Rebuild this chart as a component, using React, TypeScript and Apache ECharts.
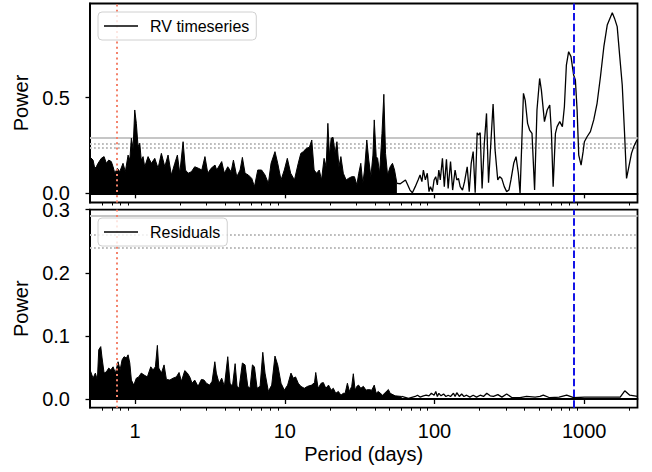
import React, { useEffect, useRef } from "react";
import * as echarts from "echarts";

// ---- data (period in days, power) ----
const rvDense: [number, number][] = [
  [0.5, 0.19], [0.524, 0.174], [0.538, 0.131], [0.551, 0.139], [0.566, 0.157], [0.595, 0.183],
  [0.621, 0.192], [0.643, 0.157], [0.667, 0.174], [0.694, 0.166], [0.713, 0.139], [0.732, 0.105],
  [0.762, 0.131], [0.79, 0.113], [0.831, 0.157], [0.861, 0.113], [0.898, 0.2], [0.922, 0.174],
  [0.945, 0.288], [0.97, 0.235], [0.995, 0.436], [1.02, 0.366], [1.047, 0.244], [1.075, 0.262],
  [1.1, 0.174], [1.131, 0.192], [1.16, 0.139], [1.221, 0.192], [1.285, 0.157], [1.354, 0.183],
  [1.424, 0.131], [1.499, 0.209], [1.58, 0.139], [1.661, 0.2], [1.748, 0.096], [1.842, 0.157],
  [1.917, 0.2], [1.989, 0.105], [2.093, 0.27], [2.17, 0.122], [2.26, 0.105], [2.377, 0.113],
  [2.504, 0.139], [2.65, 0.131], [2.79, 0.122], [2.93, 0.192], [3.06, 0.105], [3.22, 0.131],
  [3.42, 0.148], [3.51, 0.122], [3.79, 0.166], [3.95, 0.105], [4.16, 0.139], [4.38, 0.113],
  [4.54, 0.174], [4.78, 0.087], [5.03, 0.122], [5.21, 0.188], [5.43, 0.105], [5.71, 0.096],
  [6.02, 0.078], [6.27, 0.035], [6.6, 0.122], [7.0, 0.122], [7.38, 0.096], [7.77, 0.052],
  [8.1, 0.157], [8.6, 0.218], [8.97, 0.157], [9.44, 0.07], [9.93, 0.122], [10.4, 0.183],
  [10.95, 0.105], [11.6, 0.07], [12.3, 0.157], [12.8, 0.209], [13.3, 0.218], [13.9, 0.235],
  [14.6, 0.241], [15.15, 0.279], [15.7, 0.122], [16.3, 0.105], [17.0, 0.122], [17.6, 0.07],
  [18.3, 0.183], [18.9, 0.139], [19.4, 0.366], [19.9, 0.192], [20.4, 0.288], [21.0, 0.293],
  [21.7, 0.209], [22.3, 0.27], [23.0, 0.139], [23.7, 0.192], [24.6, 0.105], [25.7, 0.07],
  [26.6, 0.078], [28.0, 0.087], [29.2, 0.087], [30.3, 0.044], [31.2, 0.105], [32.2, 0.157],
  [33.2, 0.052], [34.1, 0.122], [35.3, 0.279], [36.4, 0.174], [37.6, 0.087], [38.8, 0.2],
  [39.6, 0.384], [40.8, 0.192], [41.7, 0.183], [43.0, 0.105], [44.6, 0.314], [45.9, 0.518],
  [47.1, 0.209], [48.6, 0.096], [50.6, 0.139], [52.4, 0.157], [54.1, 0.122], [56.1, 0.052],
];

const rvLine: [number, number][] = [
  [56.1, 0.052], [59.1, 0.05], [64.0, 0.07], [66.3, 0.044], [68.6, 0.017], [71.2, 0.003],
  [74.4, 0.035], [77.7, 0.07], [80.1, 0.096], [82.4, 0.061], [84.3, 0.122], [86.9, 0.07],
  [89.5, 0.105], [91.9, 0.009], [94.0, 0.035], [96.9, 0.009], [99.4, 0.07], [101.9, 0.087],
  [104.5, 0.044], [106.9, 0.122], [109.3, 0.07], [113.0, 0.183], [116.3, 0.035], [120.2, 0.178],
  [123.4, 0.026], [128.0, 0.166], [132.2, 0.017], [137.3, 0.122], [140.9, 0.07], [144.6, 0.078],
  [148.5, 0.035], [153.9, 0.017], [158.8, 0.061], [165.4, 0.139], [170.6, 0.009], [175.9, 0.157],
  [181.3, 0.218], [187.0, 0.003], [192.8, 0.317], [196.8, 0.305], [201.9, 0.317], [208.0, 0.026],
  [215.2, 0.262], [222.6, 0.418], [229.6, 0.056], [237.9, 0.262], [246.3, 0.467], [253.9, 0.227],
  [264.6, 0.07], [272.8, 0.087], [281.2, 0.078], [292.5, 0.035], [303.4, 0.009], [314.2, 0.017],
  [324.1, 0.07], [338.3, 0.157], [350.5, 0.192], [363.3, 0.105], [373.0, 0.0], [392.9, 0.523],
  [403.4, 0.488], [418.6, 0.366], [431.9, 0.331], [448.0, 0.314], [466.3, 0.017], [483.7, 0.436],
  [503.9, 0.601], [517.6, 0.54], [542.6, 0.375], [565.9, 0.436], [588.7, 0.462], [604.3, 0.314],
  [620.3, 0.035], [642.4, 0.314], [659.2, 0.349], [686.3, 0.375], [715.0, 0.349], [737.3, 0.453],
  [760.3, 0.671], [787.1, 0.741], [816.4, 0.715], [849.7, 0.619], [873.1, 0.593], [896.6, 0.436],
  [919.4, 0.2], [953.3, 0.148], [983.6, 0.218], [1003, 0.27], [1045, 0.296], [1100, 0.323],
  [1158, 0.384], [1219, 0.471], [1284, 0.61], [1353, 0.767], [1425, 0.88], [1485, 0.915],
  [1540, 0.945], [1595, 0.915], [1661, 0.872], [1728, 0.715], [1795, 0.567], [1860, 0.314],
  [1918, 0.078], [1987, 0.139], [2070, 0.209], [2143, 0.244], [2250, 0.279],
];

const resDense: [number, number][] = [
  [0.5, 0.046], [0.506, 0.043], [0.524, 0.033], [0.543, 0.041], [0.56, 0.03], [0.572, 0.078],
  [0.59, 0.083], [0.602, 0.065], [0.621, 0.041], [0.643, 0.043], [0.667, 0.049], [0.688, 0.046],
  [0.713, 0.051], [0.739, 0.041], [0.77, 0.059], [0.794, 0.046], [0.819, 0.062], [0.844, 0.067],
  [0.875, 0.065], [0.898, 0.07], [0.922, 0.057], [0.945, 0.03], [0.98, 0.022], [1.02, 0.033],
  [1.058, 0.035], [1.1, 0.041], [1.148, 0.038], [1.208, 0.035], [1.273, 0.051], [1.319, 0.046],
  [1.367, 0.051], [1.409, 0.085], [1.44, 0.049], [1.5, 0.041], [1.562, 0.054], [1.619, 0.031],
  [1.706, 0.03], [1.793, 0.033], [1.887, 0.035], [1.967, 0.042], [2.04, 0.028], [2.148, 0.045],
  [2.236, 0.041], [2.319, 0.035], [2.403, 0.025], [2.504, 0.03], [2.634, 0.02], [2.773, 0.031],
  [2.89, 0.03], [2.994, 0.025], [3.15, 0.022], [3.27, 0.028], [3.41, 0.059], [3.49, 0.041],
  [3.64, 0.025], [3.79, 0.033], [3.95, 0.02], [4.16, 0.067], [4.31, 0.025], [4.47, 0.02],
  [4.66, 0.056], [4.8, 0.02], [4.95, 0.017], [5.21, 0.057], [5.43, 0.054], [5.66, 0.02],
  [5.86, 0.017], [6.08, 0.054], [6.27, 0.051], [6.53, 0.017], [6.84, 0.02], [7.13, 0.074],
  [7.38, 0.041], [7.77, 0.012], [8.18, 0.022], [8.6, 0.068], [8.97, 0.054], [9.44, 0.025],
  [9.93, 0.014], [10.45, 0.022], [11.0, 0.041], [11.4, 0.033], [11.8, 0.035], [12.3, 0.025],
  [12.8, 0.02], [13.5, 0.017], [14.2, 0.02], [15.1, 0.022], [15.8, 0.026], [16.1, 0.042],
  [16.7, 0.017], [17.5, 0.025], [18.1, 0.026], [18.8, 0.017], [19.6, 0.022], [20.4, 0.014],
  [21.1, 0.017], [21.9, 0.009], [22.8, 0.012], [23.7, 0.006], [24.6, 0.009], [25.3, 0.009],
  [26.2, 0.025], [27.0, 0.012], [28.0, 0.02], [28.7, 0.04], [29.5, 0.014], [30.3, 0.02],
  [31.1, 0.022], [32.2, 0.017], [33.5, 0.02], [34.9, 0.014], [36.2, 0.015], [38.1, 0.014],
  [39.6, 0.022], [40.8, 0.009], [42.1, 0.012], [45.0, 0.006], [49.2, 0.015], [50.6, 0.009],
  [54.6, 0.005], [60.5, 0.004],
];

const resLine: [number, number][] = [
  [60.5, 0.004], [67.0, 0.001], [74.4, 0.004], [77.0, 0.006], [80.1, 0.003], [84.3, 0.005],
  [87.9, 0.006], [91.9, 0.005], [95.3, 0.009], [99.4, 0.006], [102, 0.012], [104.5, 0.004],
  [107, 0.009], [110.6, 0.005], [115, 0.008], [119.2, 0.004], [123.4, 0.006], [128, 0.004],
  [133.9, 0.009], [137.3, 0.004], [140.9, 0.01], [146.5, 0.004], [151.8, 0.008], [157.3, 0.004],
  [163.8, 0.006], [172.3, 0.003], [181.4, 0.006], [190.9, 0.003], [201.9, 0.006], [212.6, 0.004],
  [223.5, 0.009], [235.4, 0.005], [247.7, 0.004], [265, 0.007], [282, 0.003], [303.4, 0.008],
  [330, 0.002], [373, 0.002], [412, 0.004], [470, 0.003], [507, 0.004], [533, 0.006],
  [588, 0.002], [680, 0.003], [764, 0.006], [850, 0.002], [1002, 0.003], [1740, 0.003],
  [1866, 0.013], [2016, 0.006], [2270, 0.004],
];

const majorTicks = [1, 10, 100, 1000];
const minorTicks = [
  0.6, 0.7, 0.8, 0.9, 2, 3, 4, 5, 6, 7, 8, 9, 20, 30, 40, 50, 60, 70, 80, 90,
  200, 300, 400, 500, 600, 700, 800, 900, 2000,
];
const topYTicks = [0, 0.5];
const bottomYTicks = [0, 0.1, 0.2, 0.3];
const fapSolid = [0.288];
const fapDotted = [0.257, 0.243];
const markedPeriodRed = 0.762;
const markedPeriodBlue = 848;

const X_MIN = 0.5;
const X_MAX = 2270;
const FONT = "Liberation Sans, Arial, Helvetica, sans-serif";

export default function App() {
  const ref = useRef<HTMLDivElement>(null);

  useEffect(() => {
    if (!ref.current) return;
    const chart = echarts.init(ref.current, undefined, { renderer: "svg" });

    const hLines = [
      ...fapSolid.map((v) => ({
        yAxis: v,
        lineStyle: { color: "#c6c6c6", type: "solid", width: 1.8 },
      })),
      ...fapDotted.map((v) => ({
        yAxis: v,
        lineStyle: { color: "#bdbdbd", type: [1.8, 2.2], width: 1.8 },
      })),
    ];
    const vLines = [
      { xAxis: markedPeriodRed, lineStyle: { color: "#f4826b", type: [2, 3.3], width: 2 } },
      { xAxis: markedPeriodBlue, lineStyle: { color: "#1414e6", type: [7.5, 3.2], width: 2 } },
    ];

    const makeX = (gridIndex: number, labels: boolean) => [
      {
        type: "log",
        gridIndex,
        position: "bottom",
        min: X_MIN,
        max: X_MAX,
        logBase: 10,
        splitLine: { show: false },
        axisLine: { show: true, lineStyle: { color: "#000", width: 1.8 } },
        axisTick: {
          show: true,
          customValues: majorTicks,
          length: 5,
          inside: false,
          lineStyle: { color: "#000", width: 1.3 },
        },
        axisLabel: {
          show: labels,
          customValues: majorTicks,
          formatter: (v: number) => String(Math.round(v)),
          fontSize: 20,
          fontFamily: FONT,
          color: "#000",
          margin: 13,
        },
        name: labels ? "Period (days)" : "",
        nameLocation: "middle",
        nameGap: 36,
        nameTextStyle: { fontSize: 20, fontFamily: FONT, color: "#000" },
      },
      {
        type: "log",
        gridIndex,
        position: "bottom",
        min: X_MIN,
        max: X_MAX,
        logBase: 10,
        splitLine: { show: false },
        axisLine: { show: false },
        axisLabel: { show: false },
        axisTick: {
          show: true,
          customValues: minorTicks,
          length: 3,
          inside: false,
          lineStyle: { color: "#000", width: 1 },
        },
      },
    ];

    const makeY = (gridIndex: number, min: number, max: number, ticks: number[]) => ({
      type: "value",
      gridIndex,
      min,
      max,
      splitLine: { show: false },
      axisLine: { show: true, lineStyle: { color: "#000", width: 1.8 } },
      axisTick: {
        show: true,
        customValues: ticks,
        length: 4.5,
        inside: false,
        lineStyle: { color: "#000", width: 1.3 },
      },
      axisLabel: {
        customValues: ticks,
        formatter: (v: number) => v.toFixed(1),
        fontSize: 20,
        fontFamily: FONT,
        color: "#000",
        margin: 20,
      },
      name: "Power",
      nameLocation: "middle",
      nameGap: 54,
      nameTextStyle: { fontSize: 20, fontFamily: FONT, color: "#000" },
    });

    const panel = (
      name: string,
      dense: [number, number][],
      line: [number, number][],
      xIdx: number,
      yIdx: number
    ) => [
      {
        type: "line",
        name,
        xAxisIndex: xIdx,
        yAxisIndex: yIdx,
        data: dense,
        symbol: "none",
        z: 2,
        lineStyle: { color: "#000", width: 1 },
        itemStyle: { color: "#000" },
        areaStyle: { color: "#000", opacity: 1 },
        markLine: {
          silent: true,
          symbol: ["none", "none"],
          z: 1,
          label: { show: false },
          emphasis: { disabled: true },
          data: hLines,
        },
      },
      {
        type: "line",
        name,
        xAxisIndex: xIdx,
        yAxisIndex: yIdx,
        data: line,
        symbol: "none",
        z: 3,
        lineStyle: { color: "#000", width: 1.3 },
        itemStyle: { color: "#000" },
        markLine: {
          silent: true,
          symbol: ["none", "none"],
          z: 5,
          label: { show: false },
          emphasis: { disabled: true },
          data: vLines,
        },
      },
    ];

    const legendBase = {
      orient: "horizontal",
      selectedMode: false,
      icon: "rect",
      itemWidth: 34,
      itemHeight: 1.5,
      itemStyle: { color: "#000", borderWidth: 0 },
      padding: [6, 7, 6, 6],
      backgroundColor: "rgba(255,255,255,0.8)",
      borderColor: "#d0d0d0",
      borderWidth: 1,
      borderRadius: 4,
      z: 6,
      textStyle: { fontSize: 16, fontFamily: FONT, color: "#000", padding: [0, 0, 0, 7] },
    };

    chart.setOption({
      animation: false,
      backgroundColor: "#fff",
      grid: [
        { left: 90, right: 14.5, top: 3.5, height: 199, show: true, borderColor: "#000", borderWidth: 1.8 },
        { left: 90, right: 14.5, top: 209.7, height: 198, show: true, borderColor: "#000", borderWidth: 1.8 },
      ],
      legend: [
        { ...legendBase, left: 98, top: 12, data: ["RV timeseries"] },
        { ...legendBase, left: 98, top: 218, data: ["Residuals"] },
      ],
      xAxis: [...makeX(0, false), ...makeX(1, true)],
      yAxis: [makeY(0, -0.048, 0.993, topYTicks), makeY(1, -0.0138, 0.3, bottomYTicks)],
      series: [
        ...panel("RV timeseries", rvDense, rvLine, 0, 0),
        ...panel("Residuals", resDense, resLine, 2, 1),
      ],
    });

    return () => chart.dispose();
  }, []);

  return (
    <div
      ref={ref}
      style={{ position: "fixed", left: 0, top: 0, width: 652, height: 472, background: "#fff" }}
    />
  );
}
